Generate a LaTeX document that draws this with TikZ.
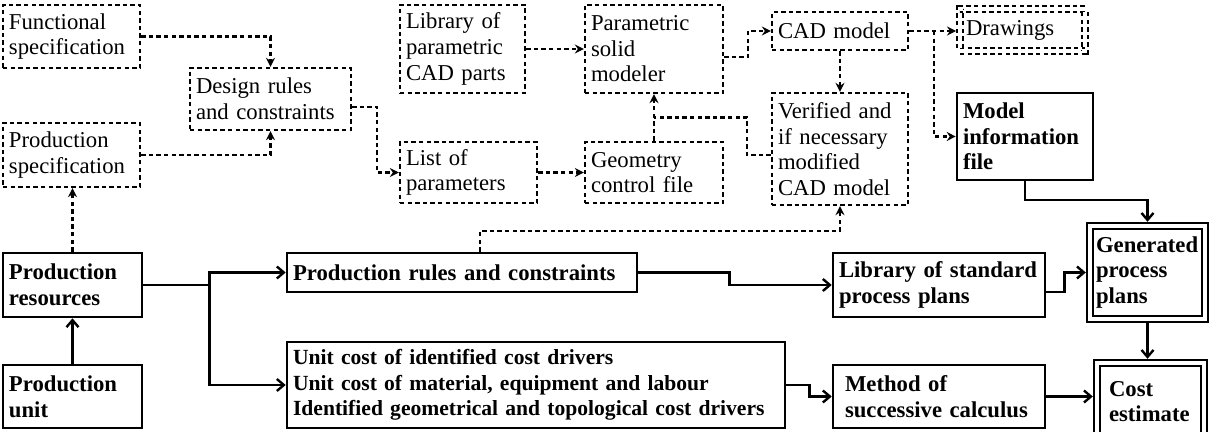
\documentclass[tikz,border=0pt]{standalone}
\usepackage{fontspec}
\setmainfont{Liberation Serif}
\usetikzlibrary{arrows.meta,calc}

\tikzset{
  dline/.style={line width=1.15pt, dash pattern=on 2.2pt off 1.6pt},
  dlink/.style={dline, -{Stealth[length=4.5pt,width=4.5pt,inset=1.5pt]}},
  slink/.style={line width=1.2pt, -{Straight Barb[length=3.5pt,width=6pt]}},
  dbox/.style={draw, dline, align=left, inner sep=3pt, font=\fontsize{11.35}{12.8}\selectfont},
  sbox/.style={draw, line width=1.3pt, align=left, inner sep=3pt, font=\fontsize{11.35}{12.8}\selectfont\bfseries},
  ddbox/.style={dbox, double, double distance=1.8pt, outer sep=2pt},
  dsbox/.style={sbox, line width=1.2pt, double, double distance=1.8pt, outer sep=2.1pt},
}

\begin{document}
\begin{tikzpicture}[x=0.5pt,y=-0.5pt]
\useasboundingbox (0,0) rectangle (1213,432);
%
\newcommand{\blok}[7]{
  \pgfmathsetmacro{\blkw}{(#5-#3)*0.5}
  \pgfmathsetmacro{\blkh}{(#6-#4)*0.5}
  \pgfmathsetmacro{\blkt}{(#5-#3)*0.5-6}
  \node[#1, minimum width=\blkw pt, minimum height=\blkh pt, text width=\blkt pt]
    (#2) at ({(#3+#5)/2},{(#4+#6)/2}) {#7};
}
% design side (dashed)
\blok{dbox}{func}{3}{5}{140}{68}{Functional\\specification}
\blok{dbox}{prodspec}{3}{123}{140}{187}{Production\\specification}
\blok{dbox}{design}{190}{68}{351}{130}{Design rules\\and constraints}
\blok{dbox}{libcad}{400}{5}{525}{93}{Library of\\parametric\\CAD parts}
\blok{dbox}{modeler}{585}{5}{723}{93}{Parametric\\solid\\modeler}
\blok{dbox}{params}{400}{142}{537}{203}{List of\\parameters}
\blok{dbox}{geom}{585}{142}{723}{203}{Geometry\\control file}
\blok{dbox}{cad}{772}{12}{908}{50}{CAD model}
\blok{dbox}{verified}{772}{93}{908}{205}{Verified and\\if necessary\\modified\\CAD model}
\blok{ddbox}{drawings}{960}{9}{1085}{51}{Drawings}
\blok{sbox}{modelinfo}{957}{93}{1093}{180}{Model\\information\\file}
% production side (solid)
\blok{sbox}{resources}{3}{253}{142}{317}{Production\\resources}
\blok{sbox}{unit}{3}{365}{142}{428}{Production\\unit}
\blok{sbox}{prules}{287}{253}{637}{292}{Production rules and constraints}
\blok{sbox, font=\fontsize{10.8}{12.8}\selectfont\bfseries}{unitcost}{287}{342}{785}{428}{Unit cost of identified cost drivers\\Unit cost of material, equipment and labour\\Identified geometrical and topological cost drivers}
\blok{sbox}{stdplans}{833}{253}{1045}{317}{Library of standard\\process plans}
\blok{sbox}{method}{833}{365}{1045}{428}{\hspace{3pt}Method of\\\hspace{3pt}successive calculus}
\blok{dsbox}{generated}{1090}{226}{1205}{319}{Generated\\process\\plans}
\blok{dsbox}{cost}{1097}{363}{1204}{440}{\hspace{3pt}Cost\\\hspace{3pt}estimate}
%
\draw[dlink] (func.east) -| (design.north);
\draw[dlink] (prodspec.east) -| (design.south);
\draw[dlink] ([yshift=-4pt]design.east) -- ++(25,0) |- (params.west);
\draw[dlink] (libcad.east) -- (modeler.west);
\draw[dlink] (params.east) -- (geom.west);
\draw[dlink] (geom.north) -- (modeler.south);
\coordinate (mjoin) at ($(geom.north)!0.5!(modeler.south)$);
\draw[dline] ([yshift=-3pt]verified.west) -- ++(-24,0) |- (mjoin);
\draw[dlink] ([yshift=-4pt]modeler.east) -- ++(24,0) |- (cad.west);
\draw[dlink] (cad.east) -- (cad.east -| drawings.west);
\draw[dlink] (cad.east) ++(25,0) |- (modelinfo.west);
\draw[dlink] (cad.south) -- (verified.north);
\draw[dlink] (resources.north) -- (resources.north |- prodspec.south);
\draw[dlink] ([xshift=9pt]prules.north) |- ([yshift=-12.5pt]verified.south) -- (verified.south);
%
\draw[slink] (unit.north) -- (resources.south);
\draw[slink] (resources.east) -- ++(66,0) |- (prules.west);
\draw[slink] (resources.east) -- ++(66,0) |- (unitcost.west);
\draw[slink] (prules.east) -- ++(91,0) |- (stdplans.west);
\draw[slink] (unitcost.east) -- ++(23,0) |- (method.west);
\draw[slink] (method.east) -- (method.east -| cost.west);
\draw[slink] ([yshift=-3.5pt]stdplans.east) -- ++(18,0) |- (generated.west);
\draw[slink] (generated.south) -- (generated.south |- cost.north);
\draw[slink] (modelinfo.south) -- ++(0,19) -| (generated.north);
\end{tikzpicture}
\end{document}
